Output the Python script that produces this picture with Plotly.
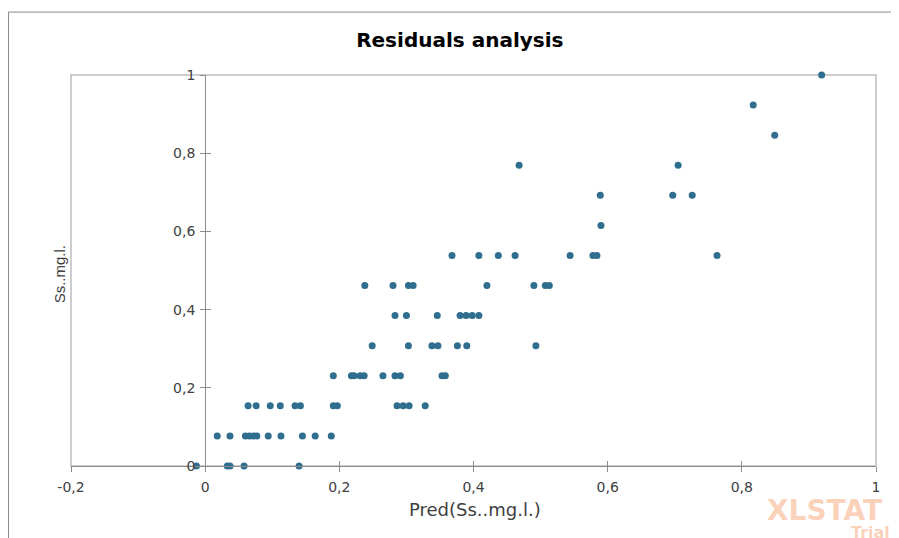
import plotly.graph_objects as go

pred_values = [
    # y = 0
    -0.013, 0.033, 0.037, 0.058, 0.140,
    # y = 1/13
    0.018, 0.037, 0.060, 0.066, 0.072, 0.077, 0.094, 0.113, 0.145, 0.164, 0.188,
    # y = 2/13
    0.064, 0.076, 0.097, 0.112, 0.134, 0.142, 0.191, 0.197, 0.286, 0.295, 0.304, 0.328,
    # y = 3/13
    0.191, 0.218, 0.222, 0.231, 0.237, 0.265, 0.283, 0.291, 0.353, 0.358,
    # y = 4/13
    0.249, 0.303, 0.338, 0.347, 0.376, 0.390, 0.493,
    # y = 5/13
    0.283, 0.300, 0.346, 0.380, 0.389, 0.398, 0.408,
    # y = 6/13
    0.238, 0.280, 0.303, 0.310, 0.420, 0.490, 0.507, 0.513,
    # y = 7/13
    0.368, 0.408, 0.437, 0.462, 0.544, 0.578, 0.584, 0.763,
    # y = 8/13
    0.590,
    # y = 9/13
    0.589, 0.697, 0.726,
    # y = 10/13
    0.468, 0.705,
    # y = 11/13
    0.849,
    # y = 12/13
    0.817,
    # y = 1
    0.919,
]
obs_values = (
    [0.0] * 5
    + [0.0769] * 11
    + [0.1538] * 12
    + [0.2308] * 10
    + [0.3077] * 7
    + [0.3846] * 7
    + [0.4615] * 8
    + [0.5385] * 8
    + [0.6154] * 1
    + [0.6923] * 3
    + [0.7692] * 2
    + [0.8462] * 1
    + [0.9231] * 1
    + [1.0] * 1
)

x_ticks = [-0.2, 0, 0.2, 0.4, 0.6, 0.8, 1]
x_tick_labels = ["-0,2", "0", "0,2", "0,4", "0,6", "0,8", "1"]
y_ticks = [0, 0.2, 0.4, 0.6, 0.8, 1]
y_tick_labels = ["0", "0,2", "0,4", "0,6", "0,8", "1"]

title_text = "Residuals analysis"
x_title = "Pred(Ss..mg.l.)"
y_title = "Ss..mg.l."

FONT = "DejaVu Sans, Verdana, sans-serif"
FONT_N = "Liberation Sans, Arial, sans-serif"
AXIS_GRAY = "#8c8c8c"
FRAME_GRAY = "#bdbdbd"
LABEL = "#404040"
Y_AXIS_POS = (0 - (-0.2)) / 1.2  # paper position of x=0

fig = go.Figure()
fig.add_trace(go.Scatter(
    x=pred_values, y=obs_values, mode="markers",
    marker=dict(color="#2f6e8e", size=7, line=dict(width=0)),
    cliponaxis=False, showlegend=False, hoverinfo="x+y",
))
# empty trace to materialise the overlay axes used for the inner half of cross ticks
fig.add_trace(go.Scatter(x=[None], y=[None], xaxis="x2", yaxis="y2",
                         showlegend=False, hoverinfo="skip"))

common_tick = dict(tickcolor=AXIS_GRAY, ticklen=5, tickwidth=1)

fig.update_layout(
    width=891, height=530,
    margin=dict(l=63, r=23, t=67, b=72),
    paper_bgcolor="white", plot_bgcolor="white",
    separators=", ",
    font=dict(family=FONT, size=14, color=LABEL),
    title=dict(text="<b>" + title_text + "</b>", x=0.483, xref="paper", xanchor="center",
               y=0.94, yref="container", yanchor="middle",
               font=dict(family=FONT, size=20, color="#000000")),
    xaxis=dict(range=[-0.2, 1], tickvals=x_ticks, ticktext=x_tick_labels,
               showgrid=False, zeroline=True, zerolinecolor=AXIS_GRAY, zerolinewidth=1,
               showline=True, linecolor=AXIS_GRAY, linewidth=1, mirror=False,
               ticks="outside", ticklabelstandoff=3, automargin=False, **common_tick,
               tickfont=dict(family=FONT, size=14, color=LABEL)),
    yaxis=dict(range=[0, 1], tickvals=y_ticks, ticktext=y_tick_labels,
               showgrid=False, zeroline=False,
               anchor="free", position=Y_AXIS_POS, automargin=False,
               showline=True, linecolor=AXIS_GRAY, linewidth=1,
               ticks="outside", ticklabelstandoff=2, **common_tick,
               tickfont=dict(family=FONT, size=14, color=LABEL)),
    xaxis2=dict(range=[-0.2, 1], tickvals=x_ticks, overlaying="x", anchor="y2",
                showticklabels=False, showgrid=False, zeroline=False, showline=False,
                ticks="inside", automargin=False, **common_tick),
    yaxis2=dict(range=[0, 1], tickvals=y_ticks, overlaying="y", anchor="free",
                position=Y_AXIS_POS, side="left", automargin=False,
                showticklabels=False, showgrid=False, zeroline=False, showline=False,
                ticks="inside", **common_tick),
    shapes=[
        # plot frame
        dict(type="rect", xref="paper", yref="paper", x0=0, y0=0, x1=1, y1=1,
             line=dict(color=FRAME_GRAY, width=1.5), layer="below"),
        # outer chart border (cropped at right and bottom)
        dict(type="rect", xref="paper", yref="paper", x0=-0.0776, y0=-0.25, x1=1.05, y1=1.161,
             line=dict(color="#8a8a8a", width=1), layer="below"),
    ],
    annotations=[
        dict(text=x_title, xref="paper", yref="paper", x=0.502, y=-0.1125,
             xanchor="center", yanchor="middle", showarrow=False,
             font=dict(family=FONT, size=18, color=LABEL)),
        dict(text=y_title, xref="paper", yref="paper", x=-0.015, y=0.49,
             xanchor="center", yanchor="middle", textangle=-90, showarrow=False,
             font=dict(family=FONT_N, size=15, color=LABEL)),
        dict(text="<b>XLSTAT</b>", xref="paper", yref="paper", x=0.862, y=-0.114,
             xanchor="left", yanchor="middle", showarrow=False,
             font=dict(family=FONT, size=28, color="rgba(245,150,95,0.45)")),
        dict(text="<b>Trial</b>", xref="paper", yref="paper", x=0.966, y=-0.17,
             xanchor="left", yanchor="middle", showarrow=False,
             font=dict(family=FONT, size=16, color="rgba(245,150,95,0.45)")),
    ],
)

fig.write_html("out.html")
